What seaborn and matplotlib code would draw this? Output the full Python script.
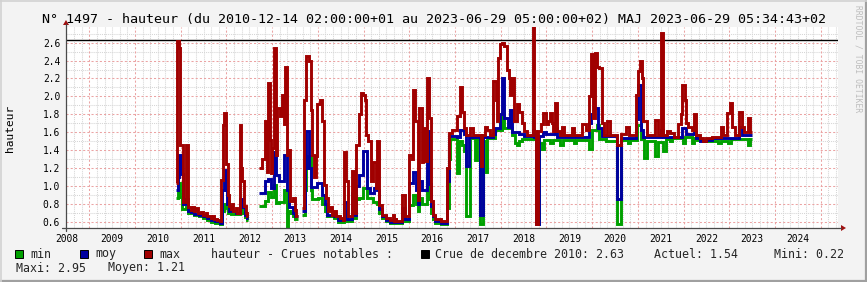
import matplotlib
matplotlib.use("Agg")
import matplotlib.pyplot as plt
import pandas as pd
import seaborn as sns
from matplotlib.patches import Rectangle, Polygon
from matplotlib.lines import Line2D

# ---------------- data (decimal year, value); None = no data ----------------
MAX = [
    (2010.90, 1.03), (2010.92, 2.62), (2010.96, 2.54), (2010.99, 1.46), (2011.05, 0.82),
    (2011.11, 1.46), (2011.16, 0.76), (2011.22, 0.73), (2011.26, 0.77), (2011.29, 0.72),
    (2011.34, 0.75), (2011.37, 0.70), (2011.45, 0.71), (2011.48, 0.68), (2011.55, 0.70),
    (2011.58, 0.66), (2011.66, 0.64), (2011.70, 0.66), (2011.73, 0.63), (2011.80, 0.62),
    (2011.85, 0.61), (2011.89, 1.07), (2011.92, 1.68), (2011.95, 1.82), (2011.98, 1.57),
    (2012.00, 1.24), (2012.03, 0.90), (2012.05, 0.78), (2012.10, 0.74), (2012.12, 0.80),
    (2012.15, 0.72), (2012.20, 0.75), (2012.24, 0.70), (2012.29, 1.68), (2012.32, 1.20),
    (2012.35, 1.05), (2012.38, 0.78), (2012.42, 0.70), (2012.45, 0.66), (2012.48, None),
    (2012.72, 1.20), (2012.78, 1.30), (2012.84, 1.72), (2012.88, 1.16), (2012.92, 2.15),
    (2012.96, 1.51), (2012.98, 1.14), (2013.00, 1.42), (2013.03, 2.54), (2013.08, 1.35),
    (2013.11, 1.87), (2013.17, 1.78), (2013.21, 2.02), (2013.26, 1.69), (2013.28, 2.33),
    (2013.33, 1.35), (2013.37, 1.40), (2013.40, 0.83), (2013.46, 0.87), (2013.50, 0.73),
    (2013.53, 0.66), (2013.56, None),
    (2013.66, 0.75), (2013.70, 1.96), (2013.75, 2.45), (2013.80, 2.39), (2013.84, 1.85),
    (2013.88, 1.35), (2013.91, 1.10), (2013.95, 1.33), (2013.99, 1.91), (2014.04, 1.96),
    (2014.09, 1.72), (2014.14, 1.01), (2014.18, 0.86), (2014.22, 0.72), (2014.27, 0.77),
    (2014.30, 0.68), (2014.36, 0.72), (2014.39, 0.66), (2014.48, 0.64), (2014.55, 0.62),
    (2014.58, 1.38), (2014.62, 1.05), (2014.66, 0.66), (2014.74, 1.17), (2014.80, 0.70),
    (2014.84, 1.46), (2014.90, 1.80), (2014.94, 2.04), (2014.99, 2.02), (2015.03, 1.96),
    (2015.06, 1.57), (2015.10, 1.50), (2015.17, 1.05), (2015.21, 1.27), (2015.27, 0.98),
    (2015.30, 1.50), (2015.34, 0.79), (2015.40, 0.68), (2015.50, 0.64), (2015.58, 0.62),
    (2015.65, 0.68), (2015.67, 0.61), (2015.70, 0.64), (2015.72, 0.61), (2015.85, 0.90),
    (2015.90, 0.66), (2016.00, 1.35), (2016.05, 1.30), (2016.09, 2.07), (2016.13, 1.72),
    (2016.18, 0.84), (2016.22, 1.87), (2016.27, 1.27), (2016.31, 1.65), (2016.35, 1.28),
    (2016.38, 2.20), (2016.44, 1.76), (2016.48, 0.83), (2016.51, 0.68), (2016.56, 0.63),
    (2016.70, 0.61), (2016.83, 1.20), (2016.87, 1.59), (2016.94, 1.63), (2017.04, 1.78),
    (2017.11, 2.11), (2017.15, 1.83), (2017.20, 1.65), (2017.25, 1.57), (2017.33, 1.65),
    (2017.40, 1.57), (2017.56, 1.22), (2017.60, 1.57), (2017.66, 1.66), (2017.70, 1.63),
    (2017.77, 1.57), (2017.84, 2.17), (2017.89, 1.96), (2017.91, 1.72), (2017.93, 2.43),
    (2017.98, 2.58), (2018.03, 2.60), (2018.08, 2.56), (2018.13, 2.30), (2018.17, 2.20),
    (2018.20, 2.02), (2018.24, 2.20), (2018.30, 1.72), (2018.35, 1.91), (2018.40, 1.83),
    (2018.46, 1.70), (2018.51, 1.61), (2018.57, 1.57), (2018.70, 2.95), (2018.73, 1.61),
    (2018.78, 0.57), (2018.81, 1.61), (2018.88, 1.69), (2018.93, 1.82), (2018.98, 1.69),
    (2019.04, 1.72), (2019.08, 1.81), (2019.12, 1.70), (2019.15, 1.61), (2019.19, 1.93),
    (2019.24, 1.61), (2019.30, 1.57), (2019.33, 1.66), (2019.38, 1.57), (2019.56, 1.65),
    (2019.60, 1.57), (2019.77, 1.69), (2019.87, 1.63), (2019.92, 2.00), (2019.97, 2.47),
    (2020.01, 1.76), (2020.06, 2.49), (2020.11, 2.33), (2020.16, 2.32), (2020.21, 1.70),
    (2020.25, 1.57), (2020.32, 1.72), (2020.38, 1.57), (2020.55, 1.46), (2020.62, 1.58),
    (2020.75, 1.66), (2020.81, 1.57), (2020.96, 2.02), (2021.01, 2.28), (2021.04, 2.39),
    (2021.08, 2.20), (2021.12, 1.72), (2021.21, 1.57), (2021.37, 1.74), (2021.43, 1.57),
    (2021.51, 2.71), (2021.54, 1.57), (2021.63, 1.61), (2021.70, 1.59), (2021.78, 1.55),
    (2021.87, 1.69), (2021.94, 1.80), (2021.96, 2.13), (2022.02, 1.96), (2022.06, 1.70),
    (2022.10, 1.66), (2022.18, 1.62), (2022.23, 1.80), (2022.28, 1.57), (2022.35, 1.53),
    (2022.42, 1.50), (2022.50, 1.53), (2022.62, 1.55), (2022.82, 1.66), (2022.87, 1.57),
    (2022.94, 1.81), (2023.01, 1.93), (2023.06, 1.66), (2023.12, 1.57), (2023.21, 1.83),
    (2023.28, 1.66), (2023.33, 1.60), (2023.41, 1.76), (2023.46, 1.60), (2023.49, 1.60),
]

MOY = [
    (2010.90, 0.95), (2010.93, 1.10), (2010.96, 1.35), (2011.00, 1.13), (2011.04, 0.80),
    (2011.11, 0.85), (2011.16, 0.72), (2011.22, 0.71), (2011.30, 0.69), (2011.40, 0.68),
    (2011.48, 0.66), (2011.58, 0.64), (2011.66, 0.62), (2011.75, 0.61), (2011.85, 0.59),
    (2011.90, 0.95), (2011.94, 1.18), (2011.98, 0.95), (2012.02, 0.80), (2012.06, 0.72),
    (2012.20, 0.70), (2012.29, 0.85), (2012.33, 0.76), (2012.40, 0.67), (2012.45, 0.64),
    (2012.48, None),
    (2012.72, 0.92), (2012.84, 1.05), (2012.92, 1.08), (2012.98, 0.98), (2013.03, 1.38),
    (2013.08, 1.12), (2013.15, 1.05), (2013.27, 1.35), (2013.33, 0.95), (2013.37, 0.76),
    (2013.46, 0.70), (2013.50, 0.66), (2013.56, None),
    (2013.66, 0.72), (2013.71, 1.20), (2013.75, 1.61), (2013.80, 1.20), (2013.86, 0.99),
    (2013.99, 1.03), (2014.10, 0.90), (2014.15, 0.80), (2014.20, 0.68), (2014.35, 0.66),
    (2014.45, 0.62), (2014.58, 0.82), (2014.63, 0.63), (2014.74, 0.92), (2014.80, 0.68),
    (2014.84, 1.00), (2014.90, 1.12), (2014.98, 1.39), (2015.08, 0.98), (2015.15, 0.92),
    (2015.22, 0.98), (2015.30, 0.95), (2015.34, 0.74), (2015.40, 0.66), (2015.50, 0.62),
    (2015.58, 0.60), (2015.85, 0.75), (2015.90, 0.63), (2016.00, 1.03), (2016.09, 1.16),
    (2016.14, 0.95), (2016.18, 0.80), (2016.22, 1.05), (2016.27, 0.95), (2016.38, 1.61),
    (2016.44, 1.02), (2016.48, 0.78), (2016.51, 0.66), (2016.56, 0.61), (2016.70, 0.59),
    (2016.83, 1.05), (2016.87, 1.56), (2017.04, 1.55), (2017.11, 1.62), (2017.20, 1.58),
    (2017.25, 1.22), (2017.30, 1.55), (2017.55, 0.67), (2017.61, 1.55), (2017.84, 1.58),
    (2017.88, 1.65), (2017.98, 1.80), (2018.02, 2.20), (2018.07, 1.76), (2018.15, 1.66),
    (2018.20, 1.85), (2018.25, 1.60), (2018.40, 1.58), (2018.50, 1.56), (2018.70, 1.62),
    (2018.73, 1.55), (2018.77, 0.57), (2018.83, 1.56), (2018.93, 1.60), (2019.00, 1.58),
    (2019.19, 1.65), (2019.24, 1.55), (2019.92, 1.70), (2019.97, 1.80), (2020.04, 1.87),
    (2020.12, 1.65), (2020.21, 1.56), (2020.55, 0.85), (2020.62, 1.54), (2020.96, 1.75),
    (2021.00, 2.13), (2021.06, 1.62), (2021.12, 1.55), (2021.51, 1.62), (2021.54, 1.55),
    (2021.96, 1.65), (2022.06, 1.58), (2022.23, 1.60), (2022.28, 1.54), (2022.35, 1.50),
    (2022.50, 1.51), (2022.62, 1.53), (2023.21, 1.66), (2023.28, 1.57), (2023.49, 1.57),
]

MIN = [
    (2010.90, 0.87), (2010.93, 0.90), (2010.95, 1.03), (2010.99, 0.88), (2011.03, 0.74),
    (2011.11, 0.76), (2011.16, 0.70), (2011.30, 0.67), (2011.40, 0.66), (2011.48, 0.64),
    (2011.58, 0.62), (2011.66, 0.60), (2011.75, 0.59), (2011.85, 0.58), (2011.90, 0.72),
    (2011.94, 0.80), (2011.98, 0.75), (2012.03, 0.70), (2012.10, 0.69), (2012.29, 0.74),
    (2012.33, 0.70), (2012.40, 0.65), (2012.45, 0.62), (2012.48, None),
    (2012.72, 0.78), (2012.84, 0.83), (2012.92, 0.93), (2012.98, 0.88), (2013.03, 1.01),
    (2013.08, 0.81), (2013.15, 0.82), (2013.27, 0.96), (2013.32, 0.53), (2013.35, 0.72),
    (2013.40, 0.70), (2013.46, 0.66), (2013.50, 0.63), (2013.56, None),
    (2013.66, 0.68), (2013.71, 0.95), (2013.75, 1.20), (2013.79, 1.33), (2013.84, 0.95),
    (2013.88, 0.85), (2014.00, 0.87), (2014.10, 0.80), (2014.15, 0.72), (2014.20, 0.66),
    (2014.35, 0.64), (2014.45, 0.60), (2014.58, 0.72), (2014.63, 0.61), (2014.74, 0.78),
    (2014.80, 0.64), (2014.84, 0.85), (2014.90, 0.86), (2014.98, 0.98), (2015.08, 0.86),
    (2015.20, 0.82), (2015.30, 0.80), (2015.34, 0.70), (2015.40, 0.64), (2015.50, 0.61),
    (2015.58, 0.59), (2015.85, 0.66), (2015.90, 0.61), (2016.00, 0.79), (2016.09, 0.90),
    (2016.14, 0.80), (2016.18, 0.72), (2016.22, 0.86), (2016.27, 0.80), (2016.38, 1.10),
    (2016.44, 0.85), (2016.48, 0.70), (2016.51, 0.63), (2016.56, 0.59), (2016.70, 0.58),
    (2016.83, 0.75), (2016.87, 1.30), (2016.90, 1.52), (2017.04, 1.14), (2017.08, 1.50),
    (2017.15, 1.46), (2017.20, 1.39), (2017.25, 0.66), (2017.32, 1.53), (2017.43, 1.29),
    (2017.47, 1.52), (2017.55, 0.57), (2017.61, 1.50), (2017.68, 1.16), (2017.71, 1.53),
    (2017.88, 1.62), (2018.02, 1.81), (2018.07, 1.65), (2018.24, 1.57), (2018.31, 1.48),
    (2018.36, 1.46), (2018.40, 1.50), (2018.46, 1.52), (2018.77, 0.57), (2018.83, 1.48),
    (2018.90, 1.41), (2018.94, 1.51), (2019.08, 1.48), (2019.15, 1.51), (2019.30, 1.46),
    (2019.36, 1.51), (2019.60, 1.48), (2019.65, 1.51), (2019.94, 1.41), (2019.99, 1.62),
    (2020.10, 1.68), (2020.16, 1.52), (2020.30, 1.50), (2020.55, 0.57), (2020.62, 1.51),
    (2020.78, 1.48), (2020.82, 1.51), (2020.98, 1.68), (2021.06, 1.52), (2021.13, 1.31),
    (2021.21, 1.50), (2021.37, 1.33), (2021.43, 1.49), (2021.56, 1.39), (2021.61, 1.52),
    (2021.70, 1.50), (2021.74, 1.53), (2021.98, 1.48), (2022.02, 1.55), (2022.18, 1.48),
    (2022.23, 1.54), (2022.30, 1.51), (2022.42, 1.50), (2022.75, 1.48), (2022.82, 1.50),
    (2022.98, 1.48), (2023.04, 1.52), (2023.40, 1.46), (2023.45, 1.52), (2023.49, 1.52),
]

YEARS = list(range(2008, 2025))
YEAR_LABELS = [str(y) for y in YEARS]
Y_TICKS = [0.6, 0.8, 1.0, 1.2, 1.4, 1.6, 1.8, 2.0, 2.2, 2.4, 2.6]
Y_LABELS = ["0.6", "0.8", "1.0", "1.2", "1.4", "1.6", "1.8", "2.0", "2.2", "2.4", "2.6"]
CRUE_2010 = 2.63
TITLE = "N° 1497 - hauteur (du 2010-12-14 02:00:00+01 au 2023-06-29 05:00:00+02) MAJ 2023-06-29 05:34:43+02"
SERIES_NAMES = ["min", "moy", "max"]
COLORS = {"min": "#00A000", "moy": "#0000A0", "max": "#A00000"}
INFO_ROW1 = ["hauteur - Crues notables :", "Crue de decembre 2010: 2.63", "Actuel: 1.54", "Mini: 0.22"]
INFO_ROW2 = ["Maxi: 2.95", "Moyen: 1.21"]

# ---------------- figure ----------------
sns.set_theme(style="white")
plt.rcParams["font.family"] = ["DejaVu Sans Mono", "DejaVu Sans"]

W, H = 867, 282
fig = plt.figure(figsize=(W / 100, H / 100), dpi=100, facecolor="#F3F3F3")


def fx(px):
    return px / W


def fy(py):
    return 1 - py / H


L, R, T, B = 66, 838, 27, 228
ax = fig.add_axes([fx(L), fy(B), (R - L) / W, (B - T) / H])
ax.set_facecolor("white")
X0, X1 = 2008.491, 2025.377
Y0, Y1 = 0.53, 2.775
ax.set_xlim(X0, X1)
ax.set_ylim(Y0, Y1)

# grid
minor_c = "#D6D6D6"
major_c = "#EBA3A3"
for y in range(2008, 2026):
    for k in range(1, 6):
        xv = y + k / 6
        if X0 < xv < X1:
            ax.axvline(xv, color=minor_c, lw=0.75, ls=(0, (1, 1)), zorder=0.5)
for yv in [0.7 + 0.2 * i for i in range(11)]:
    if Y0 < yv < Y1:
        ax.axhline(yv, color=minor_c, lw=0.75, ls=(0, (1, 1)), zorder=0.5)
for y in range(2009, 2026):
    ax.axvline(y, color=major_c, lw=0.75, ls=(0, (2, 2)), zorder=0.6)
for yv in Y_TICKS:
    ax.axhline(yv, color=major_c, lw=0.75, ls=(0, (2, 2)), zorder=0.6)

# notable flood line
ax.axhline(CRUE_2010, color="black", lw=1.0, zorder=1)


def to_frame(points, name):
    rows, seg, prev = [], 0, None
    for t, v in points:
        if v is None:
            if prev is not None:
                rows.append((t, prev, seg))
            seg += 1
            prev = None
            continue
        rows.append((t, v, seg))
        prev = v
    df = pd.DataFrame(rows, columns=["t", "v", "seg"])
    df["series"] = name
    return df


data = pd.concat([to_frame(MIN, "min"), to_frame(MOY, "moy"), to_frame(MAX, "max")],
                 ignore_index=True)

for i, name in enumerate(SERIES_NAMES):
    sub = data[data["series"] == name]
    sns.lineplot(data=sub, x="t", y="v", units="seg", estimator=None,
                 color=COLORS[name], lw=2.1, drawstyle="steps-post",
                 solid_joinstyle="miter", solid_capstyle="butt",
                 legend=False, ax=ax, zorder=2 + i)

ax.set_xlabel("")
ax.set_ylabel("")
for s in ax.spines.values():
    s.set_visible(False)
ax.set_xticks([y + 0.5 for y in YEARS], YEAR_LABELS)
ax.set_yticks(Y_TICKS, Y_LABELS)
ax.tick_params(axis="x", length=0, pad=4.0, labelsize=6.9, colors="black")
ax.tick_params(axis="y", length=0, pad=4.3, labelsize=6.9, colors="black")

# axes lines and arrows
axis_c = "#4A4A4A"
arrow_c = "#A01010"
fig.add_artist(Line2D([fx(62), fx(841)], [fy(228), fy(228)], color=axis_c, lw=0.9))
fig.add_artist(Line2D([fx(66), fx(66)], [fy(231), fy(24)], color=axis_c, lw=0.9))
fig.add_artist(Polygon([(fx(841), fy(225)), (fx(841), fy(231)), (fx(846), fy(228))],
                       closed=True, transform=fig.transFigure, color=arrow_c, lw=0))
fig.add_artist(Polygon([(fx(63), fy(25)), (fx(69), fy(25)), (fx(66), fy(20))],
                       closed=True, transform=fig.transFigure, color=arrow_c, lw=0))

# title and labels
fig.text(0.5, fy(19), TITLE, ha="center", va="center", fontsize=9.6, color="black")
fig.text(fx(10), fy(128), "hauteur", rotation=90, ha="center", va="center",
         fontsize=8.0, color="black")
fig.text(fx(858), fy(5), "RRDTOOL / TOBI OETIKER", rotation=270, ha="center", va="top",
         fontsize=5.8, color="#BDBDBD")

# legend
sq = 8
for name, x0 in zip(SERIES_NAMES, [15, 80, 144]):
    fig.add_artist(Rectangle((fx(x0), fy(258)), sq / W, sq / H, transform=fig.transFigure,
                             facecolor=COLORS[name], edgecolor="black", lw=0.7))
fig.add_artist(Rectangle((fx(421), fy(258)), sq / W, sq / H, transform=fig.transFigure,
                         facecolor="black", edgecolor="black", lw=0.7))
for name, x0 in zip(SERIES_NAMES, [30, 95, 159]):
    fig.text(fx(x0), fy(254), name, ha="left", va="center", fontsize=8.35)
for txt, x0 in zip(INFO_ROW1, [211, 435, 654, 774]):
    fig.text(fx(x0), fy(254), txt, ha="left", va="center", fontsize=8.35)
for txt, x0 in zip(INFO_ROW2, [16, 108]):
    fig.text(fx(x0), fy(268), txt, ha="left", va="center", fontsize=8.35)

# frame shade
fig.add_artist(Line2D([0, 1], [fy(280.5), fy(280.5)], color="#A0A0A0", lw=1.6))
fig.add_artist(Line2D([fx(865.5), fx(865.5)], [0, 1], color="#A0A0A0", lw=1.6))
fig.add_artist(Line2D([0, 1], [fy(0.5), fy(0.5)], color="#D2D2D2", lw=1.2))
fig.add_artist(Line2D([fx(0.5), fx(0.5)], [0, 1], color="#D2D2D2", lw=1.2))

fig.savefig("out.png", dpi=100, facecolor=fig.get_facecolor())
